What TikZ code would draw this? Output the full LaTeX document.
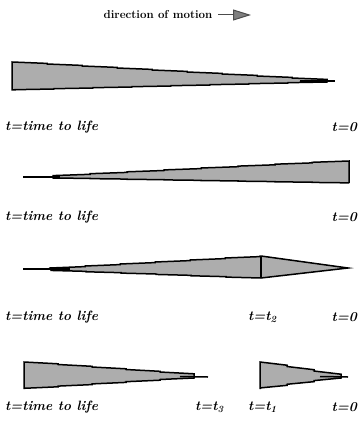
\documentclass[tikz,border=0pt]{standalone}
\usepackage{xcolor}
\usetikzlibrary{arrows.meta}
\definecolor{wedgegray}{gray}{0.68}
\tikzset{wedge/.style={fill=wedgegray,draw=black,line width=1.5pt,line join=miter},
  tipline/.style={line width=1.5pt},
  lbl/.style={font=\bfseries\itshape\fontsize{13.5}{15}\selectfont,inner sep=0pt,anchor=west},
  headline/.style={font=\bfseries\fontsize{11.5}{13}\selectfont,inner sep=0pt}}

\begin{document}
\begin{tikzpicture}[x=1pt,y=-1pt]
\useasboundingbox (0,0) rectangle (358,425);
% heading with the arrow
\node[headline] (title) at (158,15) {direction of motion};
\coordinate (arrowstart) at (218,15);
\coordinate (arrowtip) at (251,15);
\draw[-{Triangle[length=18pt,width=11pt,fill=gray]},gray!60!black,line width=1pt] (arrowstart) -- (arrowtip);
% first rod, thick end on the left
\filldraw[wedge] (12,62) \foreach \i in {1,...,9}{ -- ++(35,1.4) -- ++(0,0.6)}
  -- (327,82) \foreach \i in {1,...,8}{ -- ++(-39,0.7) -- ++(0,0.3)} -- (12,90) -- cycle;
\draw[tipline] (300,81) -- (335,81);
% second rod, thick end on the right
\filldraw[wedge] (349,161) \foreach \i in {1,...,8}{ -- ++(-37,1.3) -- ++(0,0.6)}
  -- (53,178) \foreach \i in {1,...,8}{ -- ++(37,0.45) -- ++(0,0.18)} -- (349,183) -- cycle;
\draw[tipline] (23,177) -- (60,177);
% third rod, broken at t_2
\filldraw[wedge] (50,268) \foreach \i in {1,...,6}{ -- ++(35,-1.4) -- ++(0,-0.6)}
  -- (261,256) -- (348,268) -- (261,278) \foreach \i in {1,...,6}{ -- ++(-35,-0.9) -- ++(0,-0.43)} -- cycle;
\draw[line width=1.5pt] (261,256) -- (261,278);
\draw[tipline] (23,269) -- (70,269);
% fourth row, two pieces
\filldraw[wedge] (24,362) \foreach \i in {1,...,5}{ -- ++(34,1.8) -- ++(0,0.7)}
  -- (194,378) \foreach \i in {1,...,5}{ -- ++(-34,1.5) -- ++(0,0.7)} -- cycle;
\draw[tipline] (180,376.5) -- (208,377);
\filldraw[wedge] (260,362) \foreach \i in {1,...,3}{ -- ++(27,3.2) -- ++(0,1.3)}
  -- (341,378) \foreach \i in {1,...,3}{ -- ++(-27,2.6) -- ++(0,1.07)} -- cycle;
\draw[tipline] (320,376.5) -- (348,377);
% labels under each rod
\foreach \y [count=\n] in {127,217,317,407}{
  \node[lbl] (life\n) at (5,\y) {t=time to life};
  \node[lbl,anchor=east] (zero\n) at (357,\y) {t=0};
}
\node[lbl] (ttwo) at (248,317) {t=t\textsubscript{2}};
\node[lbl] (tthree) at (195,407) {t=t\textsubscript{3}};
\node[lbl] (tone) at (248,407) {t=t\textsubscript{1}};
\end{tikzpicture}
\end{document}
